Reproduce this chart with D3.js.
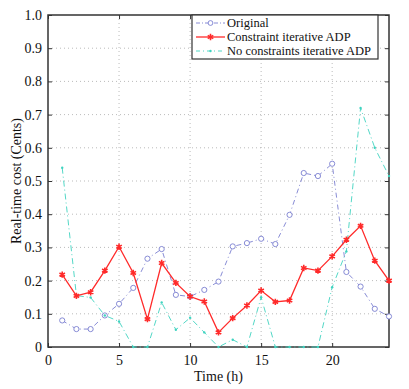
<!DOCTYPE html>
<html>
<head>
<meta charset="utf-8">
<script src="https://cdn.jsdelivr.net/npm/d3@7"></script>
<style>
  body { margin: 0; background: #fff; }
  svg text { font-family: "Liberation Serif", "Times New Roman", serif; fill: #111; }
</style>
</head>
<body>
<div id="chart"></div>
<script>
'use strict';

// hours 1..24
let hours = d3.range(1, 25);

let originalCost = [0.080, 0.054, 0.054, 0.095, 0.130, 0.178, 0.266, 0.295,
    0.157, 0.152, 0.172, 0.197, 0.303, 0.313, 0.326, 0.310,
    0.398, 0.524, 0.515, 0.552, 0.226, 0.182, 0.115, 0.092];

let constraintCost = [0.218, 0.154, 0.165, 0.230, 0.302, 0.223, 0.084, 0.253,
    0.193, 0.152, 0.137, 0.044, 0.087, 0.125, 0.170, 0.136,
    0.140, 0.238, 0.230, 0.273, 0.323, 0.365, 0.260, 0.200];

let noConstraintCost = [0.540, 0.155, 0.149, 0.095, 0.077, 0.0, 0.0, 0.134,
    0.052, 0.088, 0.044, 0.0, 0.022, 0.0, 0.150, 0.0,
    0.0, 0.0, 0.0, 0.180, 0.288, 0.720, 0.600, 0.515];

let xTicks = [0, 5, 10, 15, 20];
let yTicks = [0, 0.1, 0.2, 0.3, 0.4, 0.5, 0.6, 0.7, 0.8, 0.9, 1.0];

let seriesNames = ['Original', 'Constraint iterative ADP', 'No constraints iterative ADP'];

let width = 409,
    height = 389;
let margin = {top: 15, right: 20, bottom: 42, left: 48};
let innerW = width - margin.left - margin.right,
    innerH = height - margin.top - margin.bottom;

let svg = d3.select('#chart')
    .append('svg')
    .attr('width', width)
    .attr('height', height);

let g = svg.append('g')
    .attr('transform', 'translate(' + margin.left + ',' + margin.top + ')');

let x = d3.scaleLinear().domain([0, 24]).range([0, innerW]);
let y = d3.scaleLinear().domain([0, 1]).range([innerH, 0]);

// dotted grid
g.append('g')
    .selectAll('line')
    .data(xTicks.filter(function(d) { return d > 0; }))
    .enter().append('line')
    .attr('x1', function(d) { return x(d); })
    .attr('x2', function(d) { return x(d); })
    .attr('y1', 0)
    .attr('y2', innerH)
    .attr('stroke', '#aaa')
    .attr('stroke-width', 0.8)
    .attr('stroke-dasharray', '1,3');

g.append('g')
    .selectAll('line')
    .data(yTicks.filter(function(d) { return d > 0 && d < 1; }))
    .enter().append('line')
    .attr('x1', 0)
    .attr('x2', innerW)
    .attr('y1', function(d) { return y(d); })
    .attr('y2', function(d) { return y(d); })
    .attr('stroke', '#aaa')
    .attr('stroke-width', 0.8)
    .attr('stroke-dasharray', '1,3');

// axes, ticks inward
let xAxis = g.append('g')
    .attr('transform', 'translate(0,' + innerH + ')')
    .call(d3.axisBottom(x).tickValues(xTicks).tickFormat(d3.format('d'))
        .tickSizeInner(-4).tickSizeOuter(0).tickPadding(8));
let yAxis = g.append('g')
    .call(d3.axisLeft(y).tickValues(yTicks)
        .tickFormat(function(d) { return d === 0 ? '0' : d3.format('.1f')(d); })
        .tickSizeInner(-4).tickSizeOuter(0).tickPadding(6));
g.append('g')
    .call(d3.axisTop(x).tickValues(xTicks).tickFormat('').tickSizeInner(-4).tickSizeOuter(0));
g.append('g')
    .attr('transform', 'translate(' + innerW + ',0)')
    .call(d3.axisRight(y).tickValues(yTicks).tickFormat('').tickSizeInner(-4).tickSizeOuter(0));

g.selectAll('.domain').remove();
g.selectAll('.tick line').attr('stroke', '#333');
xAxis.selectAll('text').style('font-size', '14px').style('font-family', '"Liberation Serif", serif');
yAxis.selectAll('text').style('font-size', '14px').style('font-family', '"Liberation Serif", serif');

// frame
g.append('rect')
    .attr('width', innerW)
    .attr('height', innerH)
    .attr('fill', 'none')
    .attr('stroke', '#333')
    .attr('stroke-width', 1.5);

// series
let blue = '#7b7fd0',
    red = '#ff2a2a',
    cyan = '#3fd3c0';

let line = d3.line()
    .x(function(d) { return x(d[0]); })
    .y(function(d) { return y(d[1]); });

let plot = g.append('g');

function zipped(values) {
    return hours.map(function(h, i) { return [h, values[i]]; });
}

// original
plot.append('path')
    .datum(zipped(originalCost))
    .attr('d', line)
    .attr('fill', 'none')
    .attr('stroke', blue)
    .attr('stroke-width', 0.9)
    .attr('stroke-dasharray', '5,3,1,3');
plot.append('g')
    .selectAll('circle')
    .data(zipped(originalCost))
    .enter().append('circle')
    .attr('cx', function(d) { return x(d[0]); })
    .attr('cy', function(d) { return y(d[1]); })
    .attr('r', 2.6)
    .attr('fill', '#fff')
    .attr('stroke', blue)
    .attr('stroke-width', 0.9);

// no constraints
plot.append('path')
    .datum(zipped(noConstraintCost))
    .attr('d', line)
    .attr('fill', 'none')
    .attr('stroke', cyan)
    .attr('stroke-width', 0.9)
    .attr('stroke-dasharray', '6,3,1,3');
plot.append('g')
    .selectAll('circle')
    .data(zipped(noConstraintCost))
    .enter().append('circle')
    .attr('cx', function(d) { return x(d[0]); })
    .attr('cy', function(d) { return y(d[1]); })
    .attr('r', 1.2)
    .attr('fill', cyan);

// constraint
plot.append('path')
    .datum(zipped(constraintCost))
    .attr('d', line)
    .attr('fill', 'none')
    .attr('stroke', red)
    .attr('stroke-width', 1.3);
plot.append('g')
    .selectAll('path')
    .data(zipped(constraintCost))
    .enter().append('path')
    .attr('d', d3.symbol().type(d3.symbolAsterisk).size(28))
    .attr('transform', function(d) { return 'translate(' + x(d[0]) + ',' + y(d[1]) + ')'; })
    .attr('stroke', red)
    .attr('stroke-width', 1.6)
    .attr('fill', red);

// axis labels
svg.append('text')
    .attr('x', margin.left + innerW / 2)
    .attr('y', 381)
    .attr('text-anchor', 'middle')
    .style('font-size', '14px')
    .text('Time (h)');

svg.append('text')
    .attr('transform', 'translate(21,' + (margin.top + innerH / 2) + ') rotate(-90)')
    .attr('text-anchor', 'middle')
    .style('font-size', '14px')
    .text('Real-time cost (Cents)');

// legend
let legend = svg.append('g')
    .attr('transform', 'translate(192,15)');
legend.append('rect')
    .attr('width', 186)
    .attr('height', 44)
    .attr('fill', '#fff')
    .attr('stroke', '#333')
    .attr('stroke-width', 1.2);

let legendStyles = [
    {color: blue, dash: '4,2,1,2', width: 0.9},
    {color: red, dash: null, width: 1.3},
    {color: cyan, dash: '4,3,1,3', width: 0.9}
];

seriesNames.forEach(function(name, i) {
    let row = legend.append('g').attr('transform', 'translate(0,' + (8 + i * 14) + ')');
    let st = legendStyles[i];
    row.append('line')
        .attr('x1', 4).attr('x2', 33)
        .attr('y1', 0).attr('y2', 0)
        .attr('stroke', st.color)
        .attr('stroke-width', st.width)
        .attr('stroke-dasharray', st.dash);
    if (i === 0) {
        row.append('circle').attr('cx', 18.5).attr('cy', 0).attr('r', 2.4)
            .attr('fill', '#fff').attr('stroke', blue).attr('stroke-width', 0.9);
    } else if (i === 1) {
        row.append('path')
            .attr('d', d3.symbol().type(d3.symbolAsterisk).size(28))
            .attr('transform', 'translate(18.5,0)')
            .attr('stroke', red).attr('stroke-width', 1.6);
    } else {
        row.append('circle').attr('cx', 18.5).attr('cy', 0).attr('r', 1.2).attr('fill', cyan);
    }
    row.append('text')
        .attr('x', 35)
        .attr('y', 4.3)
        .style('font-size', '12.5px')
        .text(name);
});
</script>
</body>
</html>
